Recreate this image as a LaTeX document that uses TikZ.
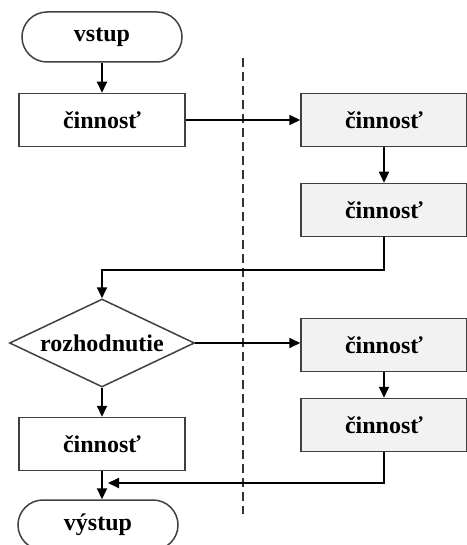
\documentclass[tikz,border=0pt]{standalone}
\usepackage{fontspec}
\setmainfont{Liberation Serif}
\usetikzlibrary{shapes.geometric,arrows.meta}

\begin{document}
\begin{tikzpicture}[%
    x=1pt, y=-1pt,                       % work in pixels, top-down
    >={Triangle[length=11pt,width=10pt]}, % filled arrow heads
    every node/.style={font=\fontsize{24}{27}\selectfont\bfseries},
    ]
% -------------------------------------------------
% Box styles
\tikzset{
  base/.style={draw=black!75, line width=1.5pt, align=center, inner sep=0pt},
  term/.style={base, rectangle, rounded corners=25pt,
    minimum width=160pt, minimum height=50pt},
  proc/.style={base, rectangle, fill=white,
    minimum width=166pt, minimum height=53pt},
  side/.style={proc, fill=black!5},
  test/.style={base, diamond, aspect=2.1,
    minimum width=185pt, minimum height=88pt},
  % Connector line styles
  norm/.style={->, draw, line width=2pt},
  border/.style={draw=black!80, line width=2.2pt, dash pattern=on 9pt off 5pt}
}
\useasboundingbox (0,0) rectangle (466,545);
% -------------------------------------------------
% Separator between the two columns
\coordinate (sepA) at (243,58);
\coordinate (sepB) at (243,514);
\draw [border] (sepA) -- (sepB);

% Left column
\node [term] (in)   at (102,37)  {vstup};
\node [proc] (act1) at (102,120) {činnosť};
\node [test] (dec)  at (102,343) {rozhodnutie};
\node [proc] (act2) at (102,444) {činnosť};
\node [term] (out)  at (98,525)  {výstup};

% Right column
\node [side] (r1) at (384,120) {činnosť};
\node [side] (r2) at (384,210) {činnosť};
\node [side] (r3) at (384,345) {činnosť};
\node [side] (r4) at (384,425) {činnosť};

% -------------------------------------------------
% Connectors
\draw [norm] (in) -- (act1);
\draw [norm] (act1) -- (r1);
\draw [norm] (r1) -- (r2);
\draw [norm] (r2.south) -- ++(0,33) -| (dec.north);
\draw [norm] (dec.east) -- (dec.east -| r3.west);
\draw [norm] (r3) -- (r4);
\draw [norm] (dec) -- (act2);
\draw [norm] (act2.south) -- (act2.south |- out.north);

\coordinate (merge) at (108,483);
\draw [norm] (r4.south) |- (merge);
% -------------------------------------------------
\end{tikzpicture}
\end{document}
